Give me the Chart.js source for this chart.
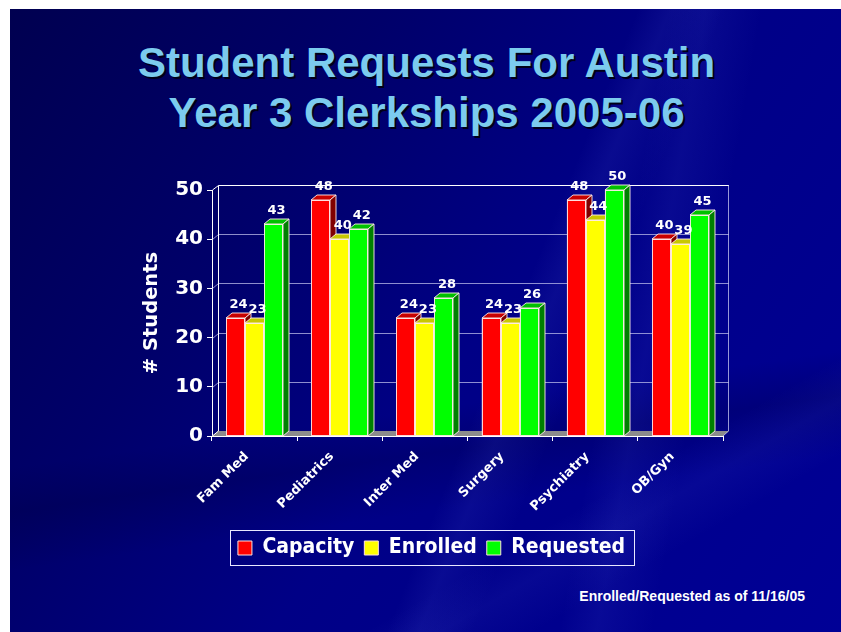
<!DOCTYPE html>
<html>
<head>
<meta charset="utf-8">
<script src="https://cdn.jsdelivr.net/npm/chart.js@4"></script>
<style>
  html, body { margin: 0; padding: 0; background: #fff; }
  body { width: 841px; height: 632px; position: relative; overflow: hidden; }
  #slide {
    position: absolute; left: 10px; top: 9px; right: 0; bottom: 0;
    background:
      linear-gradient(112deg, transparent 58%, rgba(120,140,255,0.08) 61%, transparent 66%),
      linear-gradient(100deg, transparent 70%, rgba(120,140,255,0.07) 74%, transparent 80%),
      linear-gradient(150deg, transparent 75%, rgba(120,140,255,0.06) 79%, transparent 84%),
      linear-gradient(172deg, transparent 62%, rgba(0,0,40,0.2) 68%, transparent 76%),
      linear-gradient(125deg, #000050 0%, #00006a 30%, #000086 55%, #000096 100%);
  }
  #title {
    position: absolute; left: 12px; right: 0; top: 38px;
    text-align: center; font: bold 42px/50px "Liberation Sans", Arial, sans-serif;
    color: #7ccbee; text-shadow: 2px 2px 0 #000018;
  }
  #note {
    position: absolute; right: 36px; top: 588px;
    font: bold 14px "Liberation Sans", Arial, sans-serif; color: #fff;
  }
  canvas { position: absolute; left: 0; top: 0; }
</style>
</head>
<body>
<div id="slide"></div>
<div id="title">Student Requests For Austin<br>Year 3 Clerkships 2005-06</div>
<div id="note">Enrolled/Requested as of 11/16/05</div>
<canvas id="chart" width="841" height="632"></canvas>
<script>
// valores
const categories = ["Fam Med", "Pediatrics", "Inter Med", "Surgery", "Psychiatry", "OB/Gyn"];
const capacity = [24, 48, 24, 24, 48, 40];
const enrolled = [23, 40, 23, 23, 44, 39];
const requested = [43, 42, 28, 26, 50, 45];
const yTicks = [0, 10, 20, 30, 40, 50];

// cores: frente, topo, lateral
const faceColors = [
  ["#ff0000", "#c80000", "#800000"],
  ["#ffff00", "#c8c800", "#808000"],
  ["#00ff00", "#00c000", "#008000"]
];
const DX = 6, DY = 5; // profundidade 3D
const labelFont = '"DejaVu Sans", Verdana, sans-serif';
const legendFont = '"DejaVu Sans Condensed", "DejaVu Sans", sans-serif';

const bars3d = {
  id: "bars3d",
  beforeDatasetsDraw(chart) {
    const { ctx, chartArea: a, scales: { y } } = chart;
    ctx.save();
    // chão
    ctx.fillStyle = "#8c8c8c";
    ctx.beginPath();
    ctx.moveTo(a.left, a.bottom);
    ctx.lineTo(a.right, a.bottom);
    ctx.lineTo(a.right + DX, a.bottom - DY);
    ctx.lineTo(a.left + DX, a.bottom - DY);
    ctx.closePath();
    ctx.fill();
    // linhas de grade na parede do fundo
    ctx.lineWidth = 1;
    yTicks.forEach(v => {
      if (v === 0 || v === 50) return;
      const py = Math.round(y.getPixelForValue(v)) + 0.5;
      ctx.strokeStyle = "rgba(190,190,235,0.75)";
      ctx.beginPath();
      ctx.moveTo(a.left + 0.5, py);
      ctx.lineTo(a.left + DX + 0.5, py - DY);
      ctx.lineTo(a.right + DX, py - DY);
      ctx.stroke();
    });
    // parede do fundo
    const top = Math.round(a.top) + 0.5 - DY;
    const bx = a.left + DX + 0.5;
    ctx.strokeStyle = "#ffffff";
    ctx.beginPath();
    ctx.moveTo(a.left + 0.5, a.top);
    ctx.lineTo(bx, top);
    ctx.lineTo(a.right + DX, top);
    ctx.moveTo(bx, top);
    ctx.lineTo(bx, a.bottom - DY);
    ctx.lineTo(a.left + 0.5, a.bottom);
    ctx.stroke();
    ctx.strokeStyle = "rgba(190,190,235,0.8)";
    ctx.beginPath();
    ctx.moveTo(a.right + DX - 0.5, top);
    ctx.lineTo(a.right + DX - 0.5, a.bottom - DY);
    ctx.lineTo(a.right, a.bottom);
    ctx.stroke();
    ctx.strokeStyle = "#ffffff";
    ctx.beginPath();
    ctx.moveTo(a.left, Math.round(a.bottom) + 0.5);
    ctx.lineTo(a.right, Math.round(a.bottom) + 0.5);
    ctx.stroke();
    ctx.restore();
  },
  afterDatasetsDraw(chart) {
    const { ctx } = chart;
    const n = chart.data.labels.length;
    const labels = [];
    ctx.save();
    ctx.lineWidth = 1;
    for (let i = 0; i < n; i++) {
      chart.data.datasets.forEach((ds, d) => {
        const el = chart.getDatasetMeta(d).data[i];
        const { x, y, base, width } = el.getProps(["x", "y", "base", "width"], true);
        const l = Math.round(x - width / 2), r = Math.round(x + width / 2);
        const t = Math.round(y), b = Math.round(base);
        const [front, topC, side] = faceColors[d];
        ctx.strokeStyle = "rgba(255,235,235,0.9)";
        // frente
        ctx.fillStyle = front;
        ctx.fillRect(l, t, r - l, b - t);
        ctx.strokeRect(l + 0.5, t + 0.5, r - l - 1, b - t - 1);
        // topo
        ctx.fillStyle = topC;
        ctx.beginPath();
        ctx.moveTo(l, t);
        ctx.lineTo(r, t);
        ctx.lineTo(r + DX, t - DY);
        ctx.lineTo(l + DX, t - DY);
        ctx.closePath();
        ctx.fill();
        ctx.stroke();
        // lateral
        ctx.fillStyle = side;
        ctx.beginPath();
        ctx.moveTo(r, t);
        ctx.lineTo(r + DX, t - DY);
        ctx.lineTo(r + DX, b - DY);
        ctx.lineTo(r, b);
        ctx.closePath();
        ctx.fill();
        ctx.stroke();
        labels.push([ds.data[i], x + DX / 2, t - DY - 5]);
      });
    }
    ctx.fillStyle = "#ffffff";
    ctx.font = "bold 13px " + labelFont;
    ctx.textAlign = "center";
    ctx.textBaseline = "alphabetic";
    labels.forEach(([v, x, y]) => ctx.fillText(String(v), x, y));
    ctx.restore();
  },
  afterDraw(chart) {
    // moldura da legenda
    const lg = chart.legend;
    if (!lg || !lg.legendHitBoxes.length) return;
    const hb = lg.legendHitBoxes;
    const x0 = hb[0].left - 8, x1 = hb[hb.length - 1].left + hb[hb.length - 1].width + 9;
    const cy = hb[0].top + hb[0].height / 2;
    const { ctx } = chart;
    ctx.save();
    ctx.strokeStyle = "#e8e8ff";
    ctx.lineWidth = 1;
    ctx.strokeRect(Math.round(x0) + 0.5, Math.round(cy - 18) + 0.5, Math.round(x1 - x0), 35);
    ctx.restore();
  }
};

new Chart(document.getElementById("chart").getContext("2d"), {
  type: "bar",
  data: {
    labels: categories,
    datasets: [
      { label: "Capacity", data: capacity, backgroundColor: faceColors[0][0], borderColor: "#ffe0e0", borderWidth: 1 },
      { label: "Enrolled", data: enrolled, backgroundColor: faceColors[1][0], borderColor: "#ffe0e0", borderWidth: 1 },
      { label: "Requested", data: requested, backgroundColor: faceColors[2][0], borderColor: "#ffe0e0", borderWidth: 1 }
    ]
  },
  options: {
    responsive: false,
    animation: false,
    devicePixelRatio: 1,
    categoryPercentage: 0.67,
    barPercentage: 1,
    layout: { padding: { left: 140, top: 190, right: 118, bottom: 63.5 } },
    plugins: {
      tooltip: { enabled: false },
      legend: {
        position: "bottom",
        labels: {
          color: "#ffffff",
          boxWidth: 14,
          boxHeight: 14,
          padding: 10,
          font: { family: legendFont, weight: "bold", size: 21 }
        }
      }
    },
    scales: {
      x: {
        grid: { drawOnChartArea: false, color: "#ffffff", tickLength: 5, offset: true },
        border: { color: "#ffffff" },
        ticks: {
          color: "#ffffff",
          maxRotation: 45,
          minRotation: 45,
          padding: 8,
          labelOffset: -8,
          font: { family: labelFont, weight: "bold", size: 13 }
        },
        afterFit: s => { s.height = 91.5; }
      },
      y: {
        min: 0,
        max: 50,
        afterBuildTicks: s => { s.ticks = yTicks.map(v => ({ value: v })); },
        grid: { drawOnChartArea: false, color: "#ffffff", tickLength: 5 },
        border: { color: "#ffffff" },
        ticks: {
          color: "#ffffff",
          padding: 4,
          font: { family: labelFont, weight: "bold", size: 20 }
        },
        title: {
          display: true,
          text: "# Students",
          color: "#ffffff",
          padding: 0,
          font: { family: labelFont, weight: "bold", size: 19.5 }
        },
        afterFit: s => { s.width = 72; }
      }
    }
  },
  plugins: [bars3d]
});
</script>
</body>
</html>
